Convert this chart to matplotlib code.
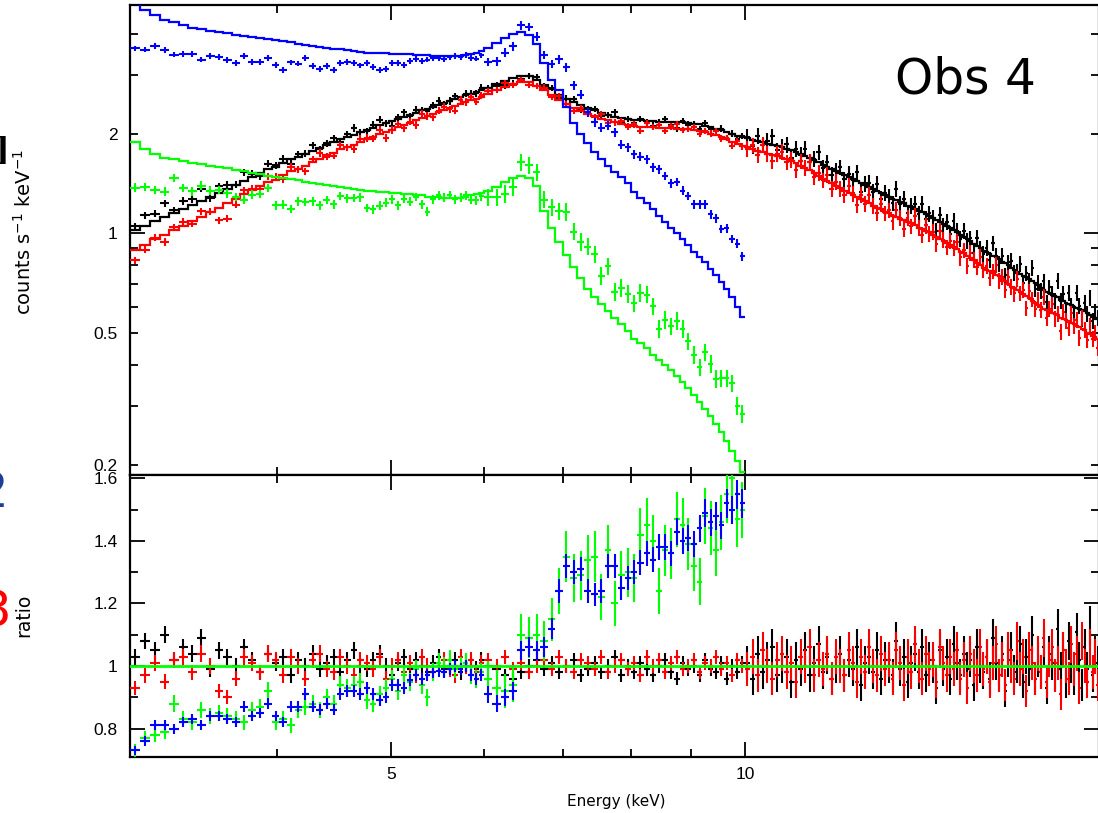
import numpy as np
import matplotlib
matplotlib.use("Agg")
import matplotlib.pyplot as plt
from matplotlib.ticker import FixedLocator, FixedFormatter, NullFormatter

# energy grid of the grouped spectra (bin edges, keV)
e_seg1 = np.round(np.arange(3.0, 6.0001, 0.06), 2)
e_seg2 = np.round(np.arange(6.0, 10.0001, 0.1), 2)
e_seg3 = np.round(np.arange(10.0, 20.0001, 0.1), 2)
edges_long = np.concatenate([e_seg1, e_seg2[1:], e_seg3[1:]])   # black / red
edges_short = np.concatenate([e_seg1, e_seg2[1:]])              # blue / green

# model (counts/s/keV)
model_black = [
    1.02, 1.05, 1.09, 1.12, 1.15, 1.18, 1.22, 1.25, 1.29, 1.32,
    1.36, 1.40, 1.44, 1.48, 1.52, 1.56, 1.59, 1.63, 1.67, 1.70,
    1.74, 1.77, 1.81, 1.85, 1.88, 1.92, 1.95, 1.98, 2.02, 2.05,
    2.08, 2.12, 2.15, 2.18, 2.22, 2.25, 2.28, 2.31, 2.35, 2.38,
    2.41, 2.44, 2.48, 2.51, 2.54, 2.58, 2.61, 2.64, 2.67, 2.70,
    2.75, 2.82, 2.88, 2.95, 2.99, 2.98, 2.90, 2.81, 2.72, 2.62,
    2.55, 2.49, 2.44, 2.39, 2.35, 2.31, 2.28, 2.25, 2.23, 2.21,
    2.20, 2.19, 2.18, 2.18, 2.17, 2.17, 2.17, 2.16, 2.16, 2.15,
    2.14, 2.13, 2.11, 2.09, 2.07, 2.05, 2.02, 2.00, 1.97, 1.95,
    1.935, 1.91, 1.895, 1.88, 1.865, 1.85, 1.835, 1.82, 1.80, 1.78,
    1.76, 1.74, 1.71, 1.69, 1.66, 1.64, 1.61, 1.59, 1.56, 1.54,
    1.52, 1.50, 1.48, 1.46, 1.44, 1.42, 1.40, 1.38, 1.36, 1.34,
    1.32, 1.30, 1.29, 1.27, 1.26, 1.24, 1.23, 1.21, 1.20, 1.18,
    1.17, 1.155, 1.14, 1.125, 1.11, 1.095, 1.08, 1.065, 1.05, 1.035,
    1.02, 1.005, 0.99, 0.975, 0.96, 0.945, 0.93, 0.915, 0.90, 0.885,
    0.875, 0.865, 0.855, 0.845, 0.835, 0.82, 0.81, 0.80, 0.785, 0.775,
    0.765, 0.755, 0.745, 0.735, 0.725, 0.715, 0.705, 0.695, 0.685, 0.675,
    0.665, 0.66, 0.65, 0.645, 0.64, 0.63, 0.625, 0.615, 0.61, 0.605,
    0.60, 0.595, 0.59, 0.585, 0.58, 0.575, 0.565, 0.56, 0.555, 0.55,
]
model_red = [
    0.89, 0.92, 0.96, 0.99, 1.02, 1.05, 1.09, 1.12, 1.16, 1.19,
    1.23, 1.27, 1.31, 1.35, 1.39, 1.43, 1.45, 1.50, 1.54, 1.56,
    1.60, 1.64, 1.68, 1.72, 1.75, 1.79, 1.82, 1.85, 1.89, 1.92,
    1.95, 1.99, 2.02, 2.05, 2.09, 2.12, 2.15, 2.19, 2.23, 2.26,
    2.29, 2.32, 2.36, 2.39, 2.42, 2.46, 2.49, 2.52, 2.55, 2.58,
    2.64, 2.71, 2.76, 2.83, 2.87, 2.86, 2.78, 2.70, 2.61, 2.52,
    2.45, 2.39, 2.34, 2.29, 2.26, 2.22, 2.19, 2.16, 2.14, 2.12,
    2.11, 2.10, 2.09, 2.09, 2.08, 2.08, 2.08, 2.07, 2.07, 2.06,
    2.05, 2.04, 2.02, 2.00, 1.98, 1.95, 1.92, 1.89, 1.86, 1.83,
    1.815, 1.79, 1.775, 1.76, 1.74, 1.72, 1.705, 1.69, 1.67, 1.65,
    1.63, 1.60, 1.575, 1.55, 1.52, 1.49, 1.46, 1.44, 1.415, 1.39,
    1.365, 1.345, 1.325, 1.305, 1.285, 1.265, 1.25, 1.23, 1.21, 1.19,
    1.18, 1.16, 1.15, 1.13, 1.12, 1.10, 1.095, 1.08, 1.07, 1.055,
    1.04, 1.03, 1.015, 1.005, 0.99, 0.975, 0.96, 0.945, 0.935, 0.92,
    0.91, 0.895, 0.88, 0.87, 0.855, 0.84, 0.83, 0.815, 0.80, 0.785,
    0.775, 0.77, 0.76, 0.75, 0.74, 0.725, 0.715, 0.70, 0.69, 0.685,
    0.675, 0.665, 0.655, 0.645, 0.635, 0.625, 0.615, 0.605, 0.60, 0.59,
    0.585, 0.58, 0.575, 0.57, 0.565, 0.555, 0.55, 0.545, 0.54, 0.535,
    0.53, 0.525, 0.52, 0.515, 0.51, 0.50, 0.495, 0.49, 0.485, 0.48,
]
model_blue = [
    4.95, 4.72, 4.55, 4.42, 4.33, 4.25, 4.18, 4.13, 4.09, 4.05,
    4.02, 3.98, 3.95, 3.91, 3.88, 3.85, 3.83, 3.80, 3.77, 3.74,
    3.71, 3.68, 3.65, 3.63, 3.61, 3.59, 3.57, 3.55, 3.53, 3.51,
    3.50, 3.49, 3.49, 3.48, 3.48, 3.47, 3.47, 3.46, 3.46, 3.45,
    3.44, 3.44, 3.43, 3.43, 3.43, 3.44, 3.45, 3.48, 3.51, 3.55,
    3.62, 3.76, 3.90, 3.99, 4.04, 3.96, 3.74, 3.26, 2.90, 2.70,
    2.40, 2.15, 2.00, 1.87, 1.76, 1.68, 1.60, 1.53, 1.48, 1.42,
    1.33, 1.28, 1.23, 1.18, 1.13, 1.08, 1.04, 1.00, 0.96, 0.92,
    0.88, 0.85, 0.82, 0.78, 0.75, 0.71, 0.68, 0.64, 0.60, 0.56,
]
model_green = [
    1.88, 1.79, 1.73, 1.69, 1.67, 1.65, 1.63, 1.62, 1.60, 1.59,
    1.57, 1.55, 1.54, 1.52, 1.51, 1.49, 1.48, 1.47, 1.46, 1.45,
    1.43, 1.42, 1.41, 1.40, 1.39, 1.38, 1.37, 1.36, 1.35, 1.34,
    1.34, 1.33, 1.33, 1.32, 1.32, 1.31, 1.31, 1.30, 1.30, 1.29,
    1.29, 1.29, 1.28, 1.28, 1.28, 1.28, 1.29, 1.30, 1.31, 1.32,
    1.34, 1.38, 1.43, 1.47, 1.49, 1.47, 1.39, 1.17, 1.04, 0.94,
    0.86, 0.79, 0.73, 0.68, 0.64, 0.61, 0.58, 0.555, 0.53, 0.505,
    0.48, 0.465, 0.45, 0.43, 0.415, 0.40, 0.385, 0.37, 0.355, 0.34,
    0.325, 0.31, 0.295, 0.28, 0.265, 0.25, 0.235, 0.22, 0.205, 0.19,
]

# data / model ratio
ratio_black = [
    1.03, 1.08, 1.05, 1.10, 1.02, 1.06, 1.04, 1.09, 0.99, 1.05,
    1.03, 1.00, 1.06, 1.02, 0.98, 1.04, 1.01, 1.03, 0.97, 1.02,
    1.00, 1.04, 0.99, 1.01, 1.03, 0.98, 1.02, 1.05, 1.00, 0.99,
    1.02, 1.04, 1.00, 0.97, 1.01, 1.03, 0.99, 1.02, 1.00, 0.98,
    1.01, 1.03, 0.99, 1.00, 1.02, 0.98, 1.01, 1.00, 0.99, 1.02,
    1.00, 0.99, 0.97, 0.96, 0.98, 1.00, 1.02, 0.99, 1.01, 0.98,
    1.00, 1.02, 0.97, 0.99, 1.01, 0.98, 1.00, 1.03, 0.97, 1.00,
    0.98, 1.01, 0.99, 0.97, 1.00, 1.02, 0.98, 0.96, 1.01, 0.99,
    1.00, 0.97, 1.02, 0.99, 0.98, 1.01, 0.96, 1.00, 0.98, 1.01,
    1.01, 0.96, 1.04, 0.98, 1.02, 1.06, 0.97, 1.00, 1.03, 0.95,
    1.02, 0.99, 1.05, 0.97, 1.01, 1.07, 0.98, 1.03, 0.96, 1.00,
    1.04, 0.97, 1.02, 0.99, 1.06, 0.94, 1.01, 1.03, 0.98, 1.05,
    0.96, 1.02, 1.00, 0.97, 1.08, 0.99, 1.03, 0.95, 1.01, 1.04,
    0.98, 1.06, 0.97, 1.02, 1.00, 0.93, 1.05, 0.99, 1.03, 0.96,
    1.07, 1.01, 0.97, 1.04, 0.99, 1.02, 0.94, 1.06, 1.00, 0.98,
    1.03, 0.96, 1.09, 1.01, 0.97, 1.04, 0.92, 1.02, 1.05, 0.98,
    1.00, 1.07, 0.95, 1.03, 0.99, 1.10, 0.96, 1.02, 0.98, 1.06,
    0.93, 1.04, 1.01, 0.97, 1.12, 0.99, 1.05, 0.95, 1.08, 1.00,
    0.96, 1.11, 1.02, 0.94, 1.06, 0.99, 1.13, 0.97, 1.04, 1.01,
]
ratio_red = [
    0.93, 0.97, 1.01, 0.95, 1.02, 1.03, 0.98, 1.04, 1.00, 0.92,
    0.90, 0.96, 1.03, 1.01, 0.98, 1.04, 1.02, 0.97, 1.03, 1.00,
    0.96, 1.02, 1.04, 0.99, 0.98, 1.03, 1.00, 0.97, 1.02, 1.01,
    0.99, 1.03, 0.96, 1.00, 1.02, 0.98, 1.01, 0.97, 1.03, 1.00,
    0.98, 1.01, 1.02, 0.99, 0.97, 1.03, 1.00, 1.02, 0.98, 1.01,
    1.02, 1.00, 1.03, 0.99, 1.01, 0.98, 1.00, 1.02, 0.99, 1.03,
    1.00, 0.98, 1.02, 1.01, 0.99, 1.03, 0.98, 1.00, 1.02, 0.99,
    1.01, 0.97, 1.03, 1.00, 1.02, 0.98, 1.01, 1.03, 0.99, 1.00,
    1.02, 0.98, 1.01, 1.00, 1.03, 0.99, 1.01, 0.97, 1.02, 1.00,
    0.99, 1.03, 0.97, 1.05, 1.00, 0.96, 1.02, 1.04, 0.98, 1.01,
    0.95, 1.03, 1.00, 1.06, 0.97, 1.02, 0.99, 1.04, 0.96, 1.03,
    1.00, 0.97, 1.05, 1.01, 0.95, 1.03, 0.98, 1.06, 1.00, 0.97,
    1.04, 0.99, 1.02, 0.96, 1.05, 1.01, 0.94, 1.03, 0.98, 1.07,
    1.00, 0.96, 1.04, 0.99, 1.02, 0.95, 1.06, 1.01, 0.97, 1.03,
    0.99, 1.05, 0.96, 1.02, 0.93, 1.04, 1.00, 0.97, 1.06, 0.99,
    1.03, 0.95, 1.01, 1.07, 0.97, 1.02, 0.94, 1.05, 1.00, 0.96,
    1.08, 0.99, 1.03, 0.92, 1.05, 1.01, 0.96, 1.04, 0.98, 1.09,
    0.95, 1.02, 1.06, 0.97, 1.01, 0.91, 1.05, 1.00, 0.96, 1.07,
    0.99, 1.04, 0.93, 1.08, 1.00, 0.95, 1.06, 0.98, 1.03, 0.94,
]
ratio_blue = [
    0.73, 0.76, 0.81, 0.81, 0.80, 0.82, 0.83, 0.81, 0.84, 0.84,
    0.83, 0.82, 0.87, 0.84, 0.85, 0.88, 0.84, 0.82, 0.87, 0.87,
    0.91, 0.87, 0.86, 0.88, 0.86, 0.91, 0.92, 0.92, 0.91, 0.93,
    0.91, 0.89, 0.90, 0.94, 0.94, 0.93, 0.955, 0.97, 0.96, 0.97,
    0.98, 0.985, 0.98, 0.99, 1.00, 0.99, 1.00, 0.97, 0.96, 0.97,
    0.91, 0.88, 0.90, 0.92, 1.05, 1.06, 1.05, 1.06, 1.12, 1.24,
    1.32, 1.30, 1.31, 1.24, 1.23, 1.24, 1.32, 1.32, 1.25, 1.28,
    1.30, 1.33, 1.36, 1.34, 1.38, 1.38, 1.36, 1.43, 1.40, 1.41,
    1.39, 1.44, 1.49, 1.46, 1.48, 1.45, 1.52, 1.50, 1.55, 1.52,
]
ratio_green = [
    0.73, 0.77, 0.78, 0.79, 0.88, 0.83, 0.82, 0.86, 0.84, 0.85,
    0.84, 0.83, 0.82, 0.86, 0.87, 0.92, 0.82, 0.83, 0.81, 0.86,
    0.87, 0.88, 0.86, 0.90, 0.88, 0.94, 0.93, 0.94, 0.95, 0.89,
    0.88, 0.91, 0.93, 0.96, 0.92, 0.97, 0.95, 0.99, 0.94, 0.90,
    0.98, 1.01, 1.00, 1.02, 0.99, 1.00, 1.01, 0.97, 0.96, 0.98,
    0.96, 0.93, 0.92, 0.94, 1.10, 1.09, 1.10, 1.08, 1.15, 1.24,
    1.35, 1.28, 1.29, 1.34, 1.35, 1.22, 1.37, 1.20, 1.29, 1.30,
    1.28, 1.42, 1.45, 1.40, 1.24, 1.37, 1.36, 1.47, 1.45, 1.39,
    1.32, 1.27, 1.48, 1.44, 1.37, 1.46, 1.55, 1.60, 1.47, 1.50,
]

# fractional 1-sigma errors per energy segment
err_black = np.repeat([0.025, 0.022, 0.055], [50, 40, 100])
err_red = np.repeat([0.025, 0.022, 0.055], [50, 40, 100])
err_blue = np.repeat([0.02, 0.03], [50, 40])
err_green = np.repeat([0.03, 0.06], [50, 40])

W, H = 1098, 813
fig = plt.figure(figsize=(W / 100, H / 100), dpi=100)
plt.rcParams['font.family'] = ['Liberation Sans', 'DejaVu Sans']

left, right = 130, 1099
ax1 = fig.add_axes([left / W, 1 - 475 / H, (right - left) / W, 470 / H])
ax2 = fig.add_axes([left / W, 1 - 757 / H, (right - left) / W, 282 / H])


def rysuj(edges, model, ratio, err, kolor, z):
    lo, hi = edges[:-1], edges[1:]
    x = np.sqrt(lo * hi)
    xerr = [x - lo, hi - x]
    model = np.asarray(model)
    ratio = np.asarray(ratio)
    dane = model * ratio
    ax1.errorbar(x, dane, xerr=xerr, yerr=dane * err, fmt='none',
                 ecolor=kolor, elinewidth=1.5, zorder=z)
    ax1.stairs(model, edges, baseline=None, color=kolor, lw=1.6, zorder=z + 0.5)
    ax2.errorbar(x, ratio, xerr=xerr, yerr=ratio * err, fmt='none',
                 ecolor=kolor, elinewidth=1.5, zorder=z)


rysuj(edges_long, model_black, ratio_black, err_black, '#000000', 2)
rysuj(edges_long, model_red, ratio_red, err_red, '#ff0000', 3)
rysuj(edges_short, model_green, ratio_green, err_green, '#00ff00', 4)
rysuj(edges_short, model_blue, ratio_blue, err_blue, '#0000ff', 5)

ax2.axhline(1.0, color='#00ff00', lw=2, zorder=10)

for ax in (ax1, ax2):
    ax.set_xscale('log')
    ax.set_xlim(3, 20)
    ax.xaxis.set_major_locator(FixedLocator([5, 10]))
    ax.xaxis.set_minor_locator(FixedLocator([4, 6, 7, 8, 9]))
    ax.xaxis.set_minor_formatter(NullFormatter())
    ax.tick_params(which='both', direction='in', top=True, right=True,
                   width=1.3, labelsize=12.5)
    ax.tick_params(which='major', length=11)
    ax.tick_params(which='minor', length=6)
    ax.tick_params(axis='y', which='both', pad=9)
    ax.tick_params(axis='x', which='both', pad=7)
    for s in ax.spines.values():
        s.set_linewidth(1.6)

ax1.set_yscale('log')
ax1.set_ylim(0.186, 4.89)
ax1.xaxis.set_major_formatter(NullFormatter())
ax1.yaxis.set_major_locator(FixedLocator([1]))
ax1.yaxis.set_major_formatter(FixedFormatter(['1']))
y_minor = [0.2, 0.3, 0.4, 0.5, 0.6, 0.7, 0.8, 0.9, 2, 3, 4]
y_minor_lab = ['0.2', '', '', '0.5', '', '', '', '', '2', '', '']
ax1.yaxis.set_minor_locator(FixedLocator(y_minor))
ax1.yaxis.set_minor_formatter(FixedFormatter(y_minor_lab))

ax2.set_ylim(0.709, 1.611)
ax2.xaxis.set_major_formatter(FixedFormatter(['5', '10']))
ax2.yaxis.set_major_locator(FixedLocator([0.8, 1.0, 1.2, 1.4, 1.6]))
ax2.yaxis.set_major_formatter(FixedFormatter(['0.8', '1', '1.2', '1.4', '1.6']))
ax2.yaxis.set_minor_locator(FixedLocator([0.9, 1.1, 1.3, 1.5]))
ax2.yaxis.set_minor_formatter(NullFormatter())

# opisy osi
fig.text(24 / W, 1 - 232 / H, r'counts s$^{-1}$ keV$^{-1}$', rotation=90,
         family='DejaVu Sans', ha='center', va='center', fontsize=14)
fig.text(24 / W, 1 - 615 / H, 'ratio', rotation=90, family='DejaVu Sans',
         ha='center', va='center', fontsize=13.5)
fig.text(616 / W, 1 - 801 / H, 'Energy (keV)', family='DejaVu Sans',
         ha='center', va='center', fontsize=11)

fig.text(895 / W, 1 - 93 / H, 'Obs 4', family='DejaVu Sans', fontsize=35,
         ha='left', va='baseline')

# fragments of the slide cut at the left edge
fig.text(9 / W, 1 - 152 / H, ']', family='DejaVu Serif', fontweight='bold',
         fontsize=22, ha='right', va='center')
fig.text(8 / W, 1 - 493 / H, '2', family='DejaVu Sans', color='#1f3c99',
         fontsize=36, ha='right', va='center')
fig.text(11 / W, 1 - 612 / H, '3', family='DejaVu Sans', color='#ff0000',
         fontsize=36, ha='right', va='center')

fig.savefig('out.png', dpi=100)
